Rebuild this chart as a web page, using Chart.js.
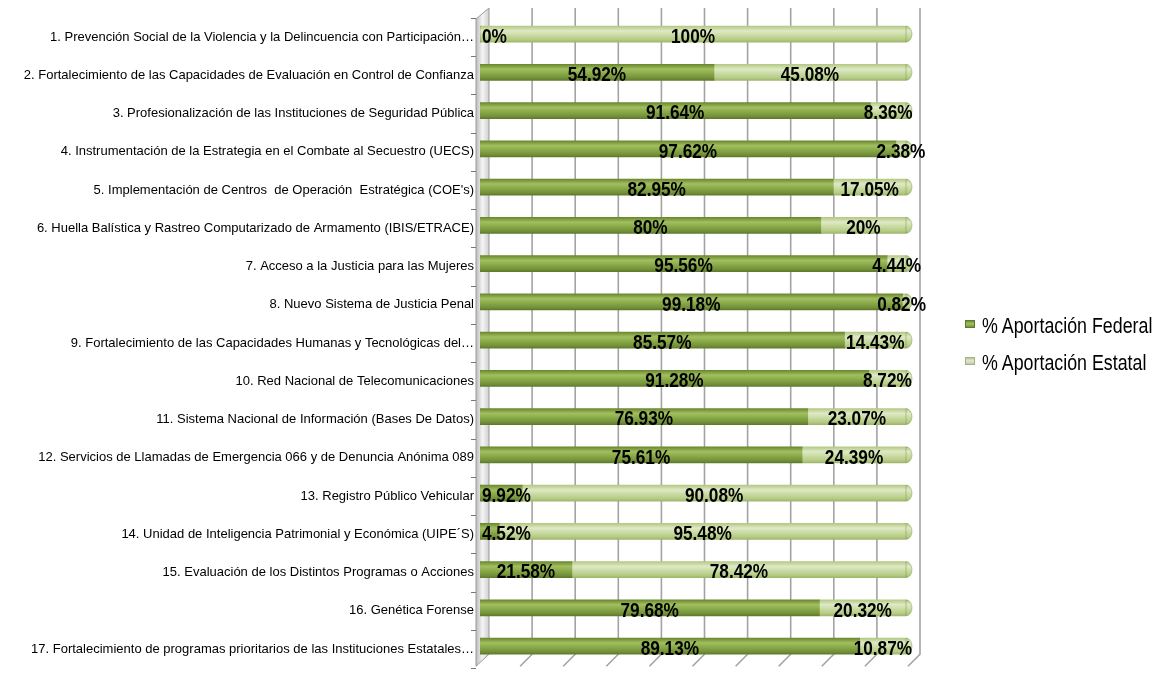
<!DOCTYPE html>
<html>
<head>
<meta charset="utf-8">
<script src="https://cdn.jsdelivr.net/npm/chart.js"></script>
<style>
  html, body { margin: 0; padding: 0; background: #fff; }
  #wrap { position: relative; width: 1156px; height: 679px; }
  #chart { position: absolute; left: 0; top: 0; }
  .leg { position: absolute; left: 965px; height: 26px; width: 190px; }
  .leg .sw { position: absolute; left: 0; top: 7px; width: 10px; height: 8px; box-sizing: border-box; }
  .leg .txt { position: absolute; left: 17px; top: 0; line-height: 26px; white-space: nowrap;
    font: 22px "Liberation Sans", Arial, sans-serif; color: #000;
    transform: scaleX(0.81); transform-origin: 0 50%; }
  .sw.fed { background: linear-gradient(#6f8d33, #a3c062 45%, #76953a); border: 1px solid #5e7a2a; }
  .sw.est { background: linear-gradient(#b9c79c, #dfe6cf 45%, #c2cda9); border: 1px solid #a2b087; }
</style>
</head>
<body>
<div id="wrap">
  <canvas id="chart" width="1156" height="679"></canvas>
  <div class="leg" style="top:313px"><span class="sw fed"></span><span class="txt">% Aportación Federal</span></div>
  <div class="leg" style="top:350px"><span class="sw est"></span><span class="txt">% Aportación Estatal</span></div>
</div>
<script>
// programas y porcentajes
var categories = [
  '1. Prevención Social de la Violencia y la Delincuencia con Participación…',
  '2. Fortalecimiento de las Capacidades de Evaluación en Control de Confianza',
  '3. Profesionalización de las Instituciones de Seguridad Pública',
  '4. Instrumentación de la Estrategia en el Combate al Secuestro (UECS)',
  '5. Implementación de Centros  de Operación  Estratégica (COE\'s)',
  '6. Huella Balística y Rastreo Computarizado de Armamento (IBIS/ETRACE)',
  '7. Acceso a la Justicia para las Mujeres',
  '8. Nuevo Sistema de Justicia Penal',
  '9. Fortalecimiento de las Capacidades Humanas y Tecnológicas del…',
  '10. Red Nacional de Telecomunicaciones',
  '11. Sistema Nacional de Información (Bases De Datos)',
  '12. Servicios de Llamadas de Emergencia 066 y de Denuncia Anónima 089',
  '13. Registro Público Vehicular',
  '14. Unidad de Inteligencia Patrimonial y Económica (UIPE´S)',
  '15. Evaluación de los Distintos Programas o Acciones',
  '16. Genética Forense',
  '17. Fortalecimiento de programas prioritarios de las Instituciones Estatales…'
];
var federal = [0, 54.92, 91.64, 97.62, 82.95, 80, 95.56, 99.18, 85.57, 91.28, 76.93, 75.61, 9.92, 4.52, 21.58, 79.68, 89.13];
var estatal = [100, 45.08, 8.36, 2.38, 17.05, 20, 4.44, 0.82, 14.43, 8.72, 23.07, 24.39, 90.08, 95.48, 78.42, 20.32, 10.87];
var gridValues = [0, 10, 20, 30, 40, 50, 60, 70, 80, 90, 100];

var fontFamily = '"Liberation Sans", Arial, sans-serif';
var squeeze = 0.82; // narrow look of the bold labels

var fedStops = ['#6a882f', '#a2bf60', '#8cab4a', '#73913a', '#5f7b2b'];
var estStops = ['#b3c983', '#dfe9c6', '#cbdca5', '#b5cb84', '#9fb66d'];

function barFill(stops) {
  return function(c) {
    var chart = c.chart;
    if (!chart.chartArea || c.dataIndex === undefined) return stops[2];
    var y = chart.scales.y.getPixelForValue(c.dataIndex);
    var g = chart.ctx.createLinearGradient(0, y - 8, 0, y + 8);
    g.addColorStop(0, stops[0]);
    g.addColorStop(0.3, stops[1]);
    g.addColorStop(0.55, stops[2]);
    g.addColorStop(0.85, stops[3]);
    g.addColorStop(1, stops[4]);
    return g;
  };
}

// back wall, grid and floor
var backdrop = {
  id: 'backdrop',
  beforeDatasetsDraw: function(chart) {
    var ctx = chart.ctx, a = chart.chartArea, x = chart.scales.x;
    ctx.save();
    // left wall
    var left = x.getPixelForValue(0);
    var wg = ctx.createLinearGradient(left - 4, 0, left + 9, 0);
    wg.addColorStop(0, '#bdbdbd');
    wg.addColorStop(0.5, '#f4f4f4');
    wg.addColorStop(1, '#d0d0d0');
    ctx.beginPath();
    ctx.moveTo(left - 4, a.top + 4);
    ctx.lineTo(left + 9, a.top - 7);
    ctx.lineTo(left + 9, a.bottom - 11);
    ctx.lineTo(left - 4, a.bottom + 1);
    ctx.closePath();
    ctx.fillStyle = wg;
    ctx.fill();
    ctx.strokeStyle = '#9a9a9a';
    ctx.lineWidth = 1;
    ctx.stroke();
    // gridlines
    ctx.strokeStyle = '#a3a3a3';
    ctx.lineWidth = 1.6;
    gridValues.forEach(function(v) {
      if (v === 0) return;
      var gx = x.getPixelForValue(v) + 9 + v * 0.05;
      ctx.beginPath();
      ctx.moveTo(gx, a.top - 7);
      ctx.lineTo(gx, a.bottom - 11);
      ctx.lineTo(gx - 12, a.bottom + 1);
      ctx.stroke();
    });
    // little ticks on the wall
    ctx.strokeStyle = '#777';
    ctx.lineWidth = 1;
    var n = chart.data.labels.length;
    var step = (a.bottom - a.top) / n;
    for (var k = 0; k <= n; k++) {
      var ty = Math.round(a.top + k * step + 3) + 0.5;
      ctx.beginPath();
      ctx.moveTo(left - 9, ty);
      ctx.lineTo(left - 4, ty);
      ctx.stroke();
    }
    ctx.restore();
  }
};

// rounded cylinder ends and value labels
var valueLabels = {
  id: 'valueLabels',
  afterDatasetsDraw: function(chart) {
    var ctx = chart.ctx, a = chart.chartArea;
    ctx.save();
    var last = chart.getDatasetMeta(chart.data.datasets.length - 1);
    last.data.forEach(function(bar) {
      ctx.beginPath();
      ctx.ellipse(bar.x, bar.y, 6, 8, 0, -Math.PI / 2, Math.PI / 2);
      ctx.closePath();
      ctx.fillStyle = bar.options.backgroundColor;
      ctx.fill();
      ctx.strokeStyle = 'rgba(120,150,70,0.6)';
      ctx.lineWidth = 0.8;
      ctx.stroke();
    });
    ctx.font = 'bold 21px ' + fontFamily;
    ctx.fillStyle = '#000';
    ctx.textAlign = 'center';
    ctx.textBaseline = 'middle';
    chart.data.datasets.forEach(function(ds, di) {
      var meta = chart.getDatasetMeta(di);
      meta.data.forEach(function(bar, i) {
        var txt = ds.data[i] + '%';
        var w = ctx.measureText(txt).width * squeeze;
        var cx = (bar.base + bar.x) / 2;
        cx = Math.max(cx, a.left + 2 + w / 2);
        cx = Math.min(cx, a.right + 20 - w / 2);
        ctx.save();
        ctx.translate(cx, bar.y + 3);
        ctx.scale(squeeze, 1);
        ctx.fillText(txt, 0, 0);
        ctx.restore();
      });
    });
    ctx.restore();
  }
};

var ctx = document.getElementById('chart').getContext('2d');
var chart = new Chart(ctx, {
  type: 'bar',
  data: {
    labels: categories,
    datasets: [
      {
        label: '% Aportación Federal',
        data: federal,
        backgroundColor: barFill(fedStops),
        borderWidth: 0,
        barThickness: 16
      },
      {
        label: '% Aportación Estatal',
        data: estatal,
        backgroundColor: barFill(estStops),
        borderWidth: 0,
        barThickness: 16
      }
    ]
  },
  options: {
    indexAxis: 'y',
    responsive: false,
    animation: false,
    devicePixelRatio: 1,
    layout: { padding: { left: 0, right: 250, top: 15, bottom: 1 } },
    plugins: {
      legend: { display: false },
      tooltip: { enabled: false }
    },
    scales: {
      x: { stacked: true, min: 0, max: 100, display: false },
      y: {
        stacked: true,
        grid: { display: false, drawTicks: false },
        border: { display: false },
        ticks: {
          autoSkip: false,
          padding: 6,
          labelOffset: 3,
          color: '#000',
          font: { family: fontFamily, size: 13 }
        },
        afterFit: function(scale) { scale.width = 480; }
      }
    }
  },
  plugins: [backdrop, valueLabels]
});
</script>
</body>
</html>
